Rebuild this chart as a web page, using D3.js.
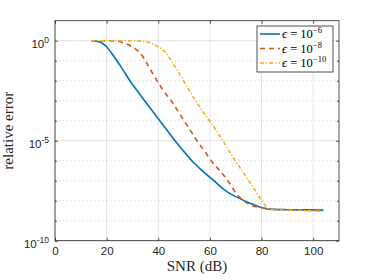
<!DOCTYPE html>
<html>
<head>
<meta charset="utf-8">
<script src="https://cdn.jsdelivr.net/npm/d3@7"></script>
<style>
body { margin: 0; background: #fff; }
svg { display: block; }
</style>
</head>
<body>
<div id="chart"></div>
<script>
// values
const snr6 = [14, 16, 18, 20, 22, 24, 26.5, 29, 31.8, 34.7, 37.6, 40.6, 43.5, 46.5, 50, 53, 57, 61.5, 66, 72, 76, 79, 83, 90, 97, 104];
const err6 = [1, 0.93, 0.79, 0.5, 0.23, 0.1, 3.2e-2, 1e-2, 3.2e-3, 1e-3, 3.2e-4, 1e-4, 3.2e-5, 1e-5, 2.8e-6, 1e-6,
              3.2e-7, 1e-7, 3.2e-8, 1.2e-8, 7.1e-9, 5.0e-9, 3.8e-9, 3.55e-9, 3.47e-9, 3.39e-9];

const snr8 = [14, 20, 24, 27, 31, 33, 35, 37, 39.5, 42, 45, 47.5, 50, 52.5, 55, 57.8, 60.5, 63.8, 67, 70, 73.5, 76.5, 80, 85, 95, 104];
const err8 = [1, 1, 0.95, 0.74, 0.4, 0.24, 0.1, 3.5e-2, 1e-2, 3.2e-3, 1e-3, 3.2e-4, 1e-4, 3.2e-5, 1e-5, 3.2e-6,
              1e-6, 3.2e-7, 1e-7, 2.5e-8, 8.9e-9, 5.6e-9, 4.5e-9, 3.7e-9, 3.4e-9, 3.2e-9];

const snr10 = [14, 30, 33, 36, 38, 40, 42, 43.5, 45, 47.5, 49.8, 52, 54.5, 57, 59.8, 62.5, 65, 67.4, 69.8, 72.4, 75, 77.6, 80, 81.5, 83, 88, 96, 104];
const err10 = [1, 1, 0.95, 0.85, 0.68, 0.5, 0.32, 0.2, 0.1, 3.2e-2, 1e-2, 3.2e-3, 1e-3, 3.2e-4, 1e-4, 3.2e-5,
               1e-5, 3.2e-6, 1e-6, 3.2e-7, 1e-7, 3.2e-8, 1e-8, 5.6e-9, 3.8e-9, 3.4e-9, 3.2e-9, 2.95e-9];

const seriesExp = ["6", "8", "10"];
const xTicks = [0, 20, 40, 60, 80, 100];
const yMajor = [1e-10, 1e-5, 1];
const yMinor = [1e-9, 1e-8, 1e-7, 1e-6, 1e-4, 1e-3, 1e-2, 1e-1];
const yExp = {1e-10: "-10", 1e-5: "-5", 1: "0"};

const width = 374, height = 280;
const margin = {top: 20.7, right: 35, bottom: 39.3, left: 55};
const iw = width - margin.left - margin.right;
const ih = height - margin.top - margin.bottom;

const svg = d3.select("#chart").append("svg")
    .attr("width", width)
    .attr("height", height);

const g = svg.append("g").attr("transform", `translate(${margin.left},${margin.top})`);

const x = d3.scaleLinear().domain([0, 110]).range([0, iw]);
const y = d3.scaleLog().domain([1e-10, 10]).range([ih, 0]);

// grid
g.selectAll(".ygrid-minor").data(yMinor).enter().append("line")
    .attr("x1", 0).attr("x2", iw)
    .attr("y1", d => y(d)).attr("y2", d => y(d))
    .attr("stroke", "#cfcfcf").attr("stroke-width", 0.8)
    .attr("stroke-dasharray", "1,3");

g.selectAll(".ygrid").data(yMajor).enter().append("line")
    .attr("x1", 0).attr("x2", iw)
    .attr("y1", d => y(d)).attr("y2", d => y(d))
    .attr("stroke", "#e3e3e3").attr("stroke-width", 1);

g.selectAll(".xgrid").data(xTicks).enter().append("line")
    .attr("x1", d => x(d)).attr("x2", d => x(d))
    .attr("y1", 0).attr("y2", ih)
    .attr("stroke", "#e3e3e3").attr("stroke-width", 1);

// curves
const series = [
    {snr: snr6, err: err6, color: "#0072BD", dash: null},
    {snr: snr8, err: err8, color: "#D95319", dash: "5,4"},
    {snr: snr10, err: err10, color: "#EDB120", dash: "4,2,1.2,2"}
];

const line = d3.line()
    .x(d => x(d[0]))
    .y(d => y(d[1]))
    .curve(d3.curveMonotoneX);

series.forEach(s => {
    g.append("path")
        .datum(d3.zip(s.snr, s.err))
        .attr("fill", "none")
        .attr("stroke", s.color)
        .attr("stroke-width", 1.6)
        .attr("stroke-dasharray", s.dash)
        .attr("d", line);
});

// axes
const tickColor = "#262626";
const bottomAxis = g.append("g").attr("transform", `translate(0,${ih})`)
    .call(d3.axisBottom(x).tickValues(xTicks).tickSizeInner(-3).tickSizeOuter(0).tickPadding(6));
g.append("g")
    .call(d3.axisTop(x).tickValues(xTicks).tickSizeInner(-3).tickSizeOuter(0).tickFormat(""));
g.append("g")
    .call(d3.axisLeft(y).tickValues(yMajor).tickSizeInner(-3).tickSizeOuter(0).tickFormat(""));
g.append("g").attr("transform", `translate(${iw},0)`)
    .call(d3.axisRight(y).tickValues(yMajor).tickSizeInner(-3).tickSizeOuter(0).tickFormat(""));
g.append("g")
    .call(d3.axisLeft(y).tickValues(yMinor).tickSizeInner(-2).tickSizeOuter(0).tickFormat(""));
g.append("g").attr("transform", `translate(${iw},0)`)
    .call(d3.axisRight(y).tickValues(yMinor).tickSizeInner(-2).tickSizeOuter(0).tickFormat(""));

g.selectAll(".domain").remove();
g.selectAll(".tick line").attr("stroke", tickColor).attr("stroke-width", 0.8);

bottomAxis.selectAll(".tick text")
    .attr("font-family", "Liberation Sans, Arial, sans-serif")
    .attr("font-size", 11.5)
    .attr("fill", tickColor);

// y tick labels as 10^n
g.selectAll(".ylab").data(yMajor).enter().append("text")
    .attr("x", -6)
    .attr("y", d => y(d) + 7.6)
    .attr("text-anchor", "end")
    .attr("font-family", "Liberation Sans, Arial, sans-serif")
    .attr("font-size", 11.5)
    .attr("fill", tickColor)
    .each(function(d) {
        const t = d3.select(this);
        t.append("tspan").text("10");
        t.append("tspan").attr("dy", -5.6).attr("font-size", 8.5).text(yExp[d]);
    });

// box
g.append("rect")
    .attr("width", iw).attr("height", ih)
    .attr("fill", "none")
    .attr("stroke", tickColor).attr("stroke-width", 0.8);

// labels
svg.append("text")
    .attr("x", margin.left + iw / 2)
    .attr("y", 271)
    .attr("text-anchor", "middle")
    .attr("font-family", "Liberation Serif, Times New Roman, serif")
    .attr("font-size", 15)
    .attr("fill", tickColor)
    .text("SNR (dB)");

svg.append("text")
    .attr("transform", `translate(13.3,${margin.top + ih / 2}) rotate(-90)`)
    .attr("text-anchor", "middle")
    .attr("font-family", "Liberation Serif, Times New Roman, serif")
    .attr("font-size", 15)
    .attr("fill", tickColor)
    .text("relative error");

// legend
const legend = svg.append("g").attr("transform", "translate(257,26)");
legend.append("rect")
    .attr("width", 76).attr("height", 46)
    .attr("fill", "#fff")
    .attr("stroke", tickColor).attr("stroke-width", 0.8);

series.forEach((s, i) => {
    const ly = 8 + i * 14.5;
    legend.append("line")
        .attr("x1", 3).attr("x2", 23)
        .attr("y1", ly).attr("y2", ly)
        .attr("stroke", s.color)
        .attr("stroke-width", 1.6)
        .attr("stroke-dasharray", s.dash);
    const t = legend.append("text")
        .attr("x", 25)
        .attr("y", ly + 4)
        .attr("font-family", "Liberation Serif, DejaVu Serif, serif")
        .attr("font-size", 12.5)
        .attr("fill", "#000");
    t.append("tspan").attr("font-style", "italic").text("\u03F5");
    t.append("tspan").text(" = 10");
    t.append("tspan").attr("dy", -5).attr("font-size", 8.5).text("\u2212" + seriesExp[i]);
});
</script>
</body>
</html>
